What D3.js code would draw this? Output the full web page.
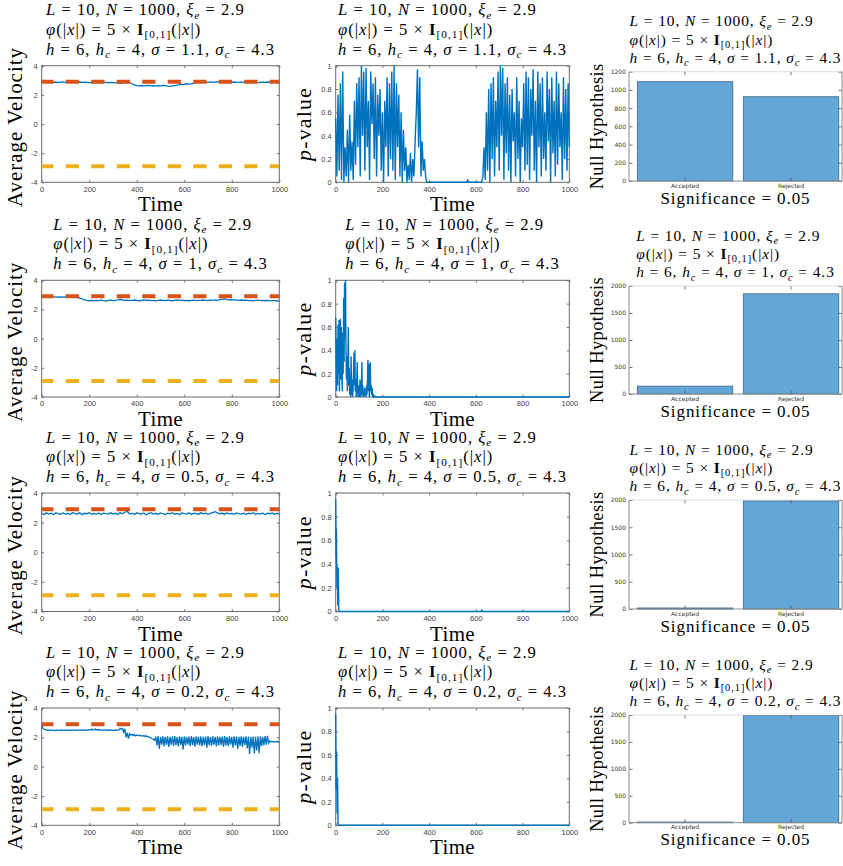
<!DOCTYPE html>
<html><head><meta charset="utf-8">
<script src="https://cdn.jsdelivr.net/npm/d3@7"></script>
<style>body{margin:0;background:#fff} text{white-space:pre}</style>
</head><body>
<svg id="chart" width="843" height="866"></svg>
<script>
// ---------------- DATA ----------------
const timeTicks = [0, 200, 400, 600, 800, 1000];
const timeTickLabels = ["0", "200", "400", "600", "800", "1000"];
const velTicks = [-4, -2, 0, 2, 4];
const velTickLabels = ["-4", "-2", "0", "2", "4"];
const pTicks = [0, 0.2, 0.4, 0.6, 0.8, 1];
const pTickLabels = ["0", "0.2", "0.4", "0.6", "0.8", "1"];
const sigmas = ["1.1", "1", "0.5", "0.2"];
const categories = ["Accepted", "Rejected"];
const accepted = [1090, 145, 18, 12];
const rejected = [925, 1855, 1982, 1988];
const barMax = [1200, 2000, 2000, 2000];
const barTicksA = [0, 200, 400, 600, 800, 1000, 1200];
const barTicksB = [0, 500, 1000, 1500, 2000];
const refUpper = 2.9;
const refLower = -2.9;

// average velocity, evenly spaced over t = 0..1000
const vel1 = [2.86,2.88,2.85,2.87,2.9,2.86,2.88,2.84,2.87,2.89,2.86,2.85,2.88,2.87,2.84,2.86,2.88,2.85,2.87,2.86,2.84,2.86,2.83,2.85,2.87,2.84,2.86,2.85,2.83,2.86,2.84,2.82,2.85,2.78,2.8,2.84,2.85,2.83,
  2.76,2.68,2.63,2.62,2.64,2.61,2.63,2.65,2.62,2.64,2.6,2.63,2.62,2.65,2.63,2.6,2.58,2.62,2.64,2.66,2.7,2.74,2.72,2.76,2.73,2.75,
  2.8,2.86,2.88,2.87,2.9,2.88,2.86,2.89,2.87,2.88,2.9,2.87,2.86,2.88,2.89,2.87,2.85,2.88,2.86,2.87,2.89,2.86,2.88,2.85,2.87,2.86,2.88,2.84,2.86,2.87,2.85,2.88,2.86,2.84,2.87,2.85,2.86];
const vel2 = [2.85,2.87,2.86,2.88,2.85,2.87,2.86,2.84,2.87,2.85,2.86,2.84,2.85,2.83,2.84,2.82,
  2.78,2.72,2.66,2.62,2.6,
  2.62,2.6,2.63,2.61,2.64,2.6,2.58,2.62,2.64,2.61,2.63,2.66,2.7,2.65,2.62,2.64,2.61,2.63,2.65,2.62,
  2.6,2.63,2.66,2.62,2.64,2.61,2.63,2.6,2.62,2.65,2.63,2.61,2.64,2.62,2.6,2.63,2.65,2.62,2.64,2.61,
  2.63,2.6,2.62,2.64,2.61,2.63,2.62,2.65,2.63,2.61,2.64,2.62,2.66,2.63,2.68,2.7,2.72,2.68,2.65,2.67,
  2.64,2.66,2.63,2.65,2.62,2.64,2.61,2.63,2.6,2.62,2.64,2.61,2.63,2.6,2.62,2.59,2.61,2.6,2.58,2.59];
const vel3 = [2.62,2.55,2.66,2.58,2.64,2.53,2.67,2.6,2.56,2.65,2.58,2.63,2.55,2.68,2.6,2.57,2.66,2.54,2.63,2.6,
  2.67,2.56,2.62,2.58,2.65,2.55,2.64,2.6,2.57,2.66,2.59,2.63,2.55,2.68,2.6,2.7,2.76,2.58,2.64,2.55,
  2.66,2.6,2.57,2.65,2.53,2.62,2.67,2.58,2.63,2.56,2.66,2.6,2.55,2.64,2.59,2.67,2.57,2.62,2.54,2.65,
  2.6,2.58,2.66,2.55,2.63,2.61,2.57,2.66,2.59,2.64,2.56,2.62,2.68,2.74,2.66,2.6,2.63,2.57,2.65,2.59,
  2.62,2.56,2.66,2.6,2.58,2.64,2.55,2.63,2.6,2.67,2.57,2.62,2.58,2.65,2.55,2.63,2.6,2.66,2.57,2.62,2.6];
const vel4 = [2.8,2.62,2.55,2.52,
  2.5,2.48,2.5,2.47,2.49,2.5,2.48,2.46,2.49,2.5,
  2.48,2.47,2.5,2.49,2.47,2.48,2.5,2.46,2.49,2.48,
  2.5,2.47,2.49,2.51,2.48,2.5,2.47,2.49,2.52,2.48,
  2.5,2.49,2.47,2.5,2.48,2.51,2.49,2.53,2.55,2.5,
  2.52,2.56,2.5,2.54,2.49,2.53,2.5,2.48,2.51,2.49,
  2.52,2.48,2.5,2.47,2.51,2.49,2.46,2.5,2.48,2.51,
  2.49,2.5,
  2.62,2.55,2.6,2.35,2.58,2.0,2.3,1.92,2.25,2.15,
  2.2,2.12,2.18,2.1,2.16,2.13,2.11,2.15,2.1,2.08,2.12,2.06,2.1,2.04,2.03,2.0,
  1.95,1.9,1.85,1.8,
  2.05,1.45,2.08,1.2,2.02,1.5,2.06,1.4,2.04,1.48,2.07,1.35,2.03,1.5,2.05,1.42,2.08,1.46,2.02,1.38,
  2.06,1.48,2.04,1.15,2.07,1.45,2.03,1.5,2.05,1.4,2.08,1.47,2.02,1.36,2.06,1.5,2.04,1.44,2.07,1.4,
  2.03,1.48,2.05,1.3,2.08,1.46,2.02,1.42,2.06,1.5,2.04,1.38,2.07,1.45,2.03,1.48,2.05,1.35,2.08,1.44,
  2.02,1.4,2.06,1.5,2.04,1.3,2.07,1.45,2.05,1.2,2.03,1.42,2.06,1.35,2.04,1.48,2.07,1.25,2.05,0.87,
  2.04,1.3,2.06,0.9,2.03,1.1,2.07,0.92,2.05,1.4,2.04,1.45,2.08,1.5,2.1,1.6,
  1.75,1.7,1.72,1.68,1.71,1.69,1.73,1.67,1.7];

// p-values, row 1 evenly spaced over t = 0..1000
const p1 = [0.55,0.05,0.75,0.1,0.85,0.02,0.95,
  0.0,0.3,0.05,0.45,0.0,0.58,
  0.1,0.35,0.02,0.7,0.15,0.85,0.3,0.9,0.05,1.0,0.4,0.95,
  0.1,0.98,0.3,0.7,0.02,0.95,0.5,0.85,0.2,0.9,0.05,0.75,0.4,0.8,0.1,0.6,
  0.0,0.7,0.3,0.9,0.05,0.85,0.2,0.95,0.1,1.0,0.02,0.85,
  0.3,0.75,0.05,0.6,0.0,0.45,0.1,0.3,
  0.0,0.15,0.02,0.25,0.0,0.2,0.05,0.35,
  0.6,0.97,0.3,0.9,0.05,0.35,0.1,0.2,
  0.05,0.0,0.0,
  0,0,0,0,0,0,0,0,0,0,0,0,0,0,0,0,0,0,0,0,0,0,0,0,0,0,0,0,0,0,0,0,0,0.02,0,0,0,0,0,0,0,0,0,0,0,0,
  0.05,0.3,0.02,0.6,0.1,0.8,0.0,
  0.85,0.2,0.9,0.05,0.7,0.3,0.95,0.1,1.0,0.4,0.98,0.02,0.85,0.25,0.9,0.1,0.75,0.0,0.8,0.35,
  0.6,0.05,0.9,0.2,0.7,0.0,0.55,0.3,0.85,0.1,0.95,0.15,0.9,0.02,0.8,0.4,0.97,0.1,0.7,0.0,
  0.95,0.3,0.85,0.05,0.9,0.2,0.6,0.1,0.95,0.35,0.8,0.0,0.9,0.25,0.7,0.05,0.95,0.15,0.85,0.3,
  0.6,0.02,0.9,0.2,0.8,0.1,0.85,0.3];
// p-values, rows 2-4 as [time, p] pairs
const p2 = [[0,0.68],[2,0.35],[4,0.05],[6,0.5],[8,0.1],[10,0.62],[12,0.2],[14,0.66],[16,0.05],[18,0.3],[20,0.67],[22,0.15],[24,0.6],[26,0.3],[28,0.05],[30,0.55],[32,0.2],[34,0.85],[36,0.3],[38,0.98],[40,0.5],[42,1.0],[44,0.4],[46,0.15],[48,0.35],[50,0.05],[52,0.3],[54,0.6],[56,0.1],[58,0.25],[60,0.02],[62,0.2],[64,0.0],[66,0.35],[68,0.02],[70,0.15],[72,0.0],[74,0.05],[76,0.2],[78,0.38],[80,0.1],[82,0.4],[84,0.05],[86,0.15],[88,0.0],[90,0.1],[92,0.3],[94,0.05],[96,0.0],[98,0.02],[100,0.1],[102,0.0],[104,0.15],[106,0.02],[108,0.0],[110,0.05],[112,0.3],[114,0.02],[116,0.1],[118,0.0],[120,0.05],[122,0.0],[124,0.08],[126,0.02],[128,0.05],[130,0.0],[132,0.1],[134,0.02],[136,0.15],[138,0.32],[140,0.05],[142,0.28],[144,0.0],[146,0.15],[148,0.3],[150,0.05],[152,0.1],[154,0.02],[156,0.08],[158,0.0],[160,0.03],[162,0.0],[166,0.01],[170,0],[1000,0]];
const p3 = [[0,0.95],[2,0.45],[3,0.7],[5,0.2],[7,0.38],[9,0.05],[11,0.37],[13,0.02],[15,0],[622,0],[625,0.012],[628,0],[1000,0]];
const p4 = [[0,0.95],[2,0.3],[4,0.63],[6,0.1],[8,0.4],[10,0.02],[12,0],[1000,0]];

// ---------------- LAYOUT ----------------
const svg = d3.select("#chart");
const serif = "'Liberation Serif','Times New Roman',serif";
const sans = "'Liberation Sans',Arial,sans-serif";
const blue = "#0072BD", red = "#D95319", yellow = "#EDB120";
const velX = [41.7, 279.3], pX = [335.7, 569.3], barX = [629, 842];
const lineRows = [[65.7, 182.3], [280.3, 397], [493, 611.5], [708, 825.3]];
const barRows = [[71.7, 181], [286, 394], [500, 609], [715, 822.7]];
const velSeries = [vel1, vel2, vel3, vel4];
const pSeries = [p1.map((v, i) => [i * 1000 / (p1.length - 1), v]), p2, p3, p4];

function titleSegs(sig) {
  const eq = " = ";
  return [
    [{t:"L",i:1},{t:eq + "10, "},{t:"N",i:1},{t:eq + "1000, "},{t:"ξ",i:1},{t:"e",i:1,sub:1},{t:eq + "2.9"}],
    [{t:"φ",i:1},{t:"(|"},{t:"x",i:1},{t:"|)" + eq + "5 × "},{t:"I",b:1},{t:"[0,1]",sub:1},{t:"(|"},{t:"x",i:1},{t:"|)"}],
    [{t:"h",i:1},{t:eq + "6, "},{t:"h",i:1},{t:"c",i:1,sub:1},{t:eq + "4, "},{t:"σ",i:1},{t:eq + sig + ", "},{t:"σ",i:1},{t:"c",i:1,sub:1},{t:eq + "4.3"}]
  ];
}
function addSegs(t, segs, fs) {
  let shift = 0;
  segs.forEach(s => {
    const el = t.append("tspan").text(s.t);
    if (s.i) el.attr("font-style", "italic");
    if (s.b) el.attr("font-weight", "bold");
    const target = s.sub ? 0.22 * fs : 0;
    if (target !== shift) el.attr("dy", target - shift);
    shift = target;
    if (s.sub) el.attr("font-size", 0.68 * fs);
  });
}
function measure(segs, fs, ls) {
  const t = svg.append("text").attr("font-family", serif).attr("font-size", fs).attr("letter-spacing", ls);
  addSegs(t, segs, fs);
  const w = t.node().getBBox().width;
  t.remove();
  return w;
}
function fitLS(segs, fs, target) {
  const w0 = measure(segs, fs, 0), w1 = measure(segs, fs, 1);
  return w1 > w0 ? (target - w0) / (w1 - w0) : 0;
}
const fsLineTitle = 16.6, fsBarTitle = 15.4;
const lsLineTitle = fitLS(titleSegs("1.1")[2], fsLineTitle, 229);
const lsBarTitle = fitLS(titleSegs("1.1")[2], fsBarTitle, 212);

const labTime = {segs:[{t:"Time"}], fs:21};
labTime.ls = fitLS(labTime.segs, labTime.fs, 45);
const labVel = {segs:[{t:"Average Velocity"}], fs:21};
labVel.ls = fitLS(labVel.segs, labVel.fs, 160);
const labP = {segs:[{t:"p",i:1},{t:"-value"}], fs:22};
labP.ls = fitLS(labP.segs, labP.fs, 76);
const labNull = {segs:[{t:"Null Hypothesis"}], fs:18.5};
labNull.ls = fitLS(labNull.segs, labNull.fs, 126);
const labSig = {segs:[{t:"Significance = 0.05"}], fs:17};
labSig.ls = fitLS(labSig.segs, labSig.fs, 150);

function drawTitle(sig, cx, top, fs, ls, offs) {
  const lines = titleSegs(sig);
  const texts = lines.map((segs, i) => {
    const t = svg.append("text").attr("y", top + offs[i]).attr("font-family", serif)
      .attr("font-size", fs).attr("letter-spacing", ls).attr("fill", "#000");
    addSegs(t, segs, fs);
    return t;
  });
  const w = d3.max(texts, t => t.node().getBBox().width);
  texts.forEach(t => t.attr("x", cx - w / 2));
}

function label(lab, x, y, rotate) {
  const t = svg.append("text").attr("font-family", serif).attr("font-size", lab.fs)
    .attr("letter-spacing", lab.ls).attr("text-anchor", "middle").attr("fill", "#000");
  if (rotate) t.attr("transform", `translate(${x},${y}) rotate(-90)`);
  else t.attr("x", x).attr("y", y);
  addSegs(t, lab.segs, lab.fs);
}

function styleAxis(g, fs, fam, col) {
  g.select(".domain").remove();
  g.selectAll(".tick line").attr("stroke", "#555").attr("stroke-width", 0.8);
  g.selectAll(".tick text").attr("font-family", fam).attr("font-size", fs).attr("fill", col);
}

function linePanel(xr, yr, yDomain, yTicks, yLabels, data, kind, row) {
  const x = d3.scaleLinear().domain([0, 1000]).range(xr);
  const y = d3.scaleLinear().domain(yDomain).range([yr[1], yr[0]]);
  const tl = 2.5;
  const gl = svg.append("g").attr("transform", `translate(${xr[0]},0)`)
    .call(d3.axisLeft(y).tickValues(yTicks).tickSize(-tl).tickPadding(4).tickFormat((d, i) => yLabels[i]));
  styleAxis(gl, 7.5, sans, "#404040");
  const gr = svg.append("g").attr("transform", `translate(${xr[1]},0)`)
    .call(d3.axisRight(y).tickValues(yTicks).tickSize(-tl).tickFormat(""));
  styleAxis(gr, 7.5, sans, "#404040");
  const gb = svg.append("g").attr("transform", `translate(0,${yr[1]})`)
    .call(d3.axisBottom(x).tickValues(timeTicks).tickSize(-tl).tickPadding(4).tickFormat((d, i) => timeTickLabels[i]));
  styleAxis(gb, 7.5, sans, "#404040");
  gb.selectAll(".tick text").attr("dy", "0.71em");
  const gt = svg.append("g").attr("transform", `translate(0,${yr[0]})`)
    .call(d3.axisTop(x).tickValues(timeTicks).tickSize(-tl).tickFormat(""));
  styleAxis(gt, 7.5, sans, "#404040");
  svg.append("rect").attr("x", xr[0]).attr("y", yr[0]).attr("width", xr[1] - xr[0]).attr("height", yr[1] - yr[0])
    .attr("fill", "none").attr("stroke", "#6a6a6a").attr("stroke-width", 1);

  if (kind === "vel") {
    const ln = d3.line().x((d, i) => x(i * 1000 / (data.length - 1))).y(d => y(d));
    svg.append("path").datum(data).attr("d", ln).attr("fill", "none").attr("stroke", blue).attr("stroke-width", 1.3);
    [[refUpper, red], [refLower, yellow]].forEach(([v, c]) => {
      svg.append("path").datum([[0, v], [1000, v]])
        .attr("d", d3.line().x(d => x(d[0])).y(d => y(d[1])))
        .attr("stroke", c).attr("stroke-width", 4).attr("stroke-dasharray", "13.3,12.2")
        .attr("stroke-dashoffset", 1.5).attr("fill", "none");
    });
  } else {
    const ln = d3.line().x(d => x(d[0])).y(d => y(d[1]));
    svg.append("path").datum(data).attr("d", ln).attr("fill", "none").attr("stroke", blue).attr("stroke-width", 1.4);
  }
  label(labTime, (xr[0] + xr[1]) / 2, yr[1] + 29, false);
  const cy = (yr[0] + yr[1]) / 2;
  if (kind === "vel") label(labVel, 22, cy + 3, true);
  else label(labP, 311, cy, true);
  drawTitle(sigmas[row], (xr[0] + xr[1]) / 2, yr[0], fsLineTitle, lsLineTitle, [-50.5, -31, -11]);
}

function barPanel(row) {
  const yr = barRows[row];
  const x = d3.scaleBand().domain(categories).range(barX).paddingInner(0.1).paddingOuter(0.055).align(0.72);
  const y = d3.scaleLinear().domain([0, barMax[row]]).range([yr[1], yr[0]]);
  const ticks = barMax[row] === 1200 ? barTicksA : barTicksB;
  const vals = [accepted[row], rejected[row]];
  svg.append("g").selectAll("rect").data(categories).join("rect")
    .attr("x", d => x(d)).attr("width", x.bandwidth())
    .attr("y", (d, i) => y(vals[i])).attr("height", (d, i) => y(0) - y(vals[i]))
    .attr("fill", "#63a7d9").attr("stroke", "#466f8e").attr("stroke-width", 0.9);
  const tl = 3.5;
  const f = "'DejaVu Sans',sans-serif";
  const gl = svg.append("g").attr("transform", `translate(${barX[0]},0)`)
    .call(d3.axisLeft(y).tickValues(ticks).tickSize(-tl).tickPadding(3).tickFormat(d3.format("d")));
  styleAxis(gl, 6, f, "#333");
  const gr = svg.append("g").attr("transform", `translate(${barX[1]},0)`)
    .call(d3.axisRight(y).tickValues(ticks).tickSize(-tl).tickFormat(""));
  styleAxis(gr, 6, f, "#333");
  const gb = svg.append("g").attr("transform", `translate(0,${yr[1]})`)
    .call(d3.axisBottom(x).tickSize(-tl).tickPadding(2.5));
  styleAxis(gb, 6, f, "#333");
  gb.selectAll(".tick text").attr("dy", "0.71em");
  const gt = svg.append("g").attr("transform", `translate(0,${yr[0]})`)
    .call(d3.axisTop(x).tickSize(-tl).tickFormat(""));
  styleAxis(gt, 6, f, "#333");
  svg.append("path").attr("d", `M${barX[0]},${yr[0]}V${yr[1]}H${barX[1]}V${yr[0]}`)
    .attr("fill", "none").attr("stroke", "#8a8a8a").attr("stroke-width", 1);
  svg.append("line").attr("x1", barX[0]).attr("x2", barX[1]).attr("y1", yr[0]).attr("y2", yr[0])
    .attr("stroke", "#c8c8c8").attr("stroke-width", 0.6);
  const cx = (barX[0] + barX[1]) / 2;
  label(labSig, cx, yr[1] + 22.5, false);
  label(labNull, 603, (yr[0] + yr[1]) / 2, true);
  drawTitle(sigmas[row], cx, yr[0], fsBarTitle, lsBarTitle, [-45.5, -27, -8.7]);
}

for (let r = 0; r < 4; r++) {
  linePanel(velX, lineRows[r], [-4, 4], velTicks, velTickLabels, velSeries[r], "vel", r);
  linePanel(pX, lineRows[r], [0, 1], pTicks, pTickLabels, pSeries[r], "p", r);
  barPanel(r);
}
</script>
</body></html>
